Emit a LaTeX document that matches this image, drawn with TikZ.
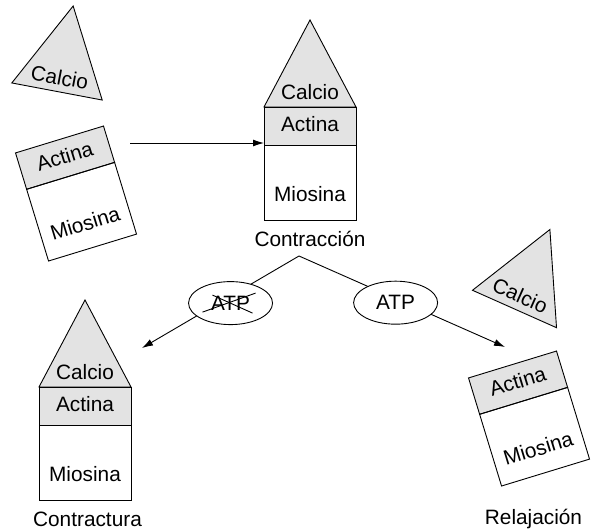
\documentclass[tikz,border=0pt]{standalone}
\usepackage{fontspec}
\setmainfont{Liberation Sans}
\usetikzlibrary{shapes,arrows.meta,positioning}
\colorlet{partfill}{gray!22}
\tikzset{
  calcio/.pic={
      \filldraw[fill=partfill] (-46,0) -- (46,0) -- (0,87) -- cycle;
      \node[anchor=base,transform shape] (-txt) at (0,7) {Calcio};
    },
  actomio/.pic={
      \filldraw[fill=partfill] (-46,0) rectangle (46,-38);
      \draw (-46,-38) rectangle (46,-113);
      \node[anchor=base,transform shape] (-act) at (0,-25) {Actina};
      \node[anchor=base,transform shape] (-mio) at (0,-95) {Miosina};
      \coordinate (-w) at (-46,-36);
    },
  atp/.style={
      draw,
      ellipse,
      fill=white,
      minimum width=84pt,
      minimum height=43pt,
      inner sep=0pt
    },
  estado/.style={anchor=base}
}

\begin{document}
\begin{tikzpicture}[x=1pt,y=1pt,line width=.9pt,
  >={Latex[length=11pt,width=7pt]},
  font=\fontsize{20.8}{25}\selectfont]
\useasboundingbox (0,0) rectangle (591,532);
% the shapes
\path
  (57,440.5) pic[rotate=-10.7] (sup-tri) {calcio}
  (59.5,392.5) pic[rotate=17] (sup) {actomio}
  (310,425) pic (cen-tri) {calcio}
  (310,425) pic (cen) {actomio}
  (85,145) pic (izq-tri) {calcio}
  (85,145) pic (izq) {actomio}
  (514.5,223) pic[rotate=-24] (der-tri) {calcio}
  (512.5,167.5) pic[rotate=17] (der) {actomio};
\node[estado] at (310,285) (contr) {Contracción};
\node[estado] at (87.5,5) (contra) {Contractura};
\node[estado] at (533.5,7) (relaj) {Relajación};
\path
  (130,389) coordinate (ini)
  (299,276) coordinate (pico)
  (142,184) coordinate (lft)
  (505,185) coordinate (rgt);

%the arrows
\draw[->] (ini) -- (cen-w);
\draw[->] (pico) --
    node[atp, pos=.436, yshift=-7pt] (atpno) {ATP}
  (lft);
\draw[->] (pico) --
    node[atp, pos=.469, yshift=-4pt] (atpsi) {ATP}
  (rgt);
\draw ([shift={(-28,-9)}]atpno.center) -- ([shift={(25,10)}]atpno.center);
\draw ([shift={(-18,8)}]atpno.center) -- ([shift={(22,-10)}]atpno.center);
\end{tikzpicture}
\end{document}
